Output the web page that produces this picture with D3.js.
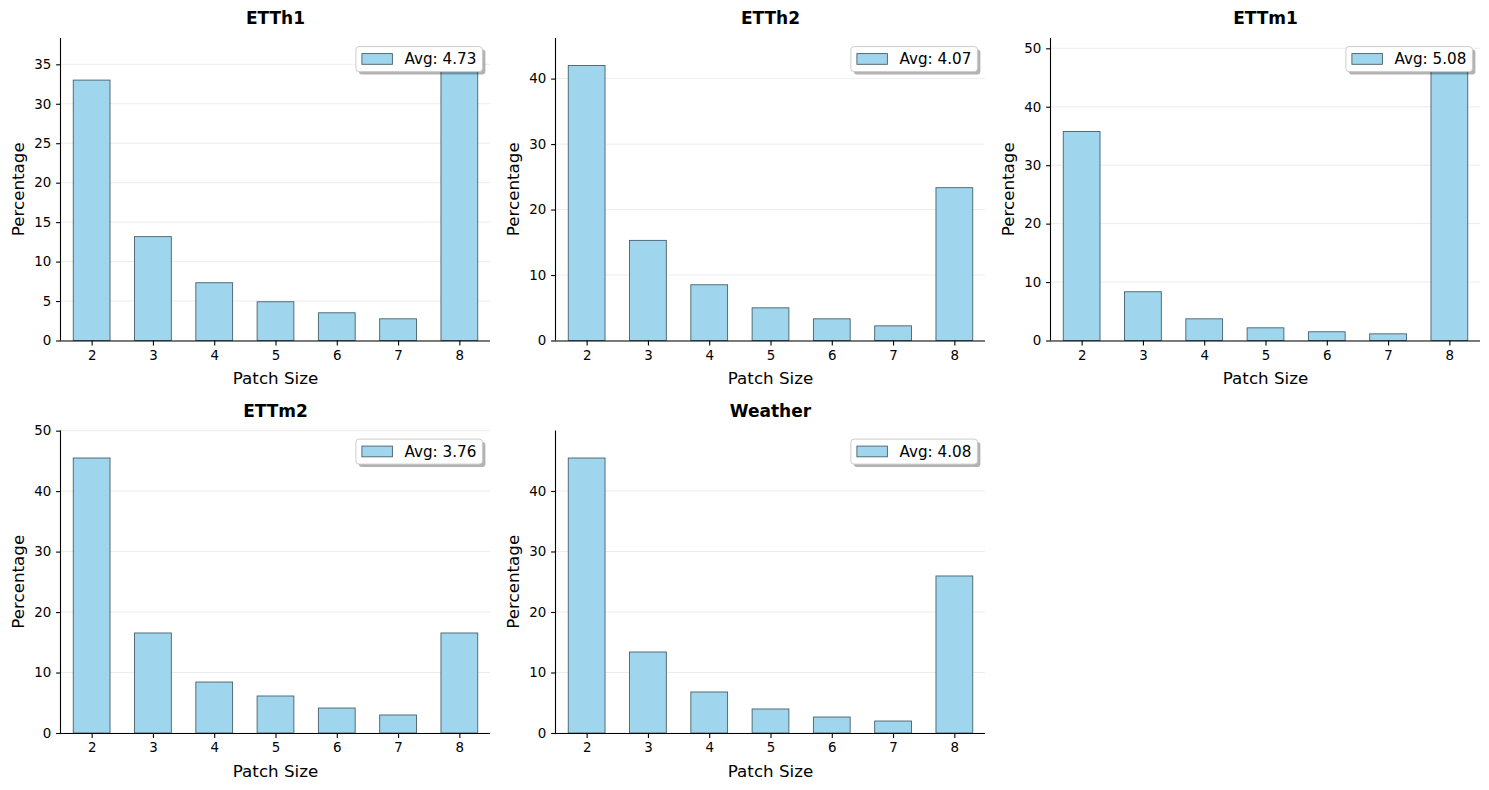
<!DOCTYPE html>
<html>
<head>
<meta charset="utf-8">
<script src="https://cdn.jsdelivr.net/npm/d3@7"></script>
<style>
  html, body { margin: 0; padding: 0; background: #fff; }
  svg { display: block; font-family: "DejaVu Sans", sans-serif; }
</style>
</head>
<body>
<svg id="chart" width="1489" height="790"></svg>
<script>
// ---- data ----
const patchSizes = [2, 3, 4, 5, 6, 7, 8];
const datasetNames = ["ETTh1", "ETTh2", "ETTm1", "ETTm2", "Weather"];
const ETTh1 = [33.0, 13.16, 7.32, 4.91, 3.51, 2.75, 34.85];
const ETTh2 = [42.0, 15.29, 8.51, 4.99, 3.31, 2.24, 23.34];
const ETTm1 = [35.77, 8.34, 3.71, 2.17, 1.49, 1.14, 47.06];
const ETTm2 = [45.48, 16.54, 8.43, 6.12, 4.13, 2.98, 16.54];
const Weather = [45.45, 13.39, 6.78, 3.97, 2.64, 1.98, 25.95];
const averages = [4.73, 4.07, 5.08, 3.76, 4.08];
const yTicksETTh1 = [0, 5, 10, 15, 20, 25, 30, 35];
const yTicksETTh2 = [0, 10, 20, 30, 40];
const yTicksETTm1 = [0, 10, 20, 30, 40, 50];
const yTicksETTm2 = [0, 10, 20, 30, 40, 50];
const yTicksWeather = [0, 10, 20, 30, 40];

const seriesList = [ETTh1, ETTh2, ETTm1, ETTm2, Weather];
const tickList = [yTicksETTh1, yTicksETTh2, yTicksETTm1, yTicksETTm2, yTicksWeather];

// ---- layout ----
const colLefts = [61, 556, 1051];
const rowTops = [38, 430.5];
const axW = 429, axH = 302.5;

const svg = d3.select("#chart");

datasetNames.forEach((name, i) => {
  const values = seriesList[i];
  const col = i % 3, row = Math.floor(i / 3);
  const g = svg.append("g").attr("transform", `translate(${colLefts[col]},${rowTops[row]})`);

  const x = d3.scaleLinear().domain([1.5, 8.5]).range([0, axW]);
  const y = d3.scaleLinear().domain([0, d3.max(values) * 1.1]).range([axH, 0]);
  const barW = x(0.6) - x(0);

  // grid
  g.append("g").selectAll("line").data(tickList[i]).join("line")
    .attr("x1", 0).attr("x2", axW)
    .attr("y1", d => y(d)).attr("y2", d => y(d))
    .attr("stroke", "#b0b0b0").attr("stroke-opacity", 0.3).attr("stroke-width", 0.8);

  // bars
  g.append("g").selectAll("rect").data(values).join("rect")
    .attr("x", (d, j) => x(patchSizes[j]) - barW / 2)
    .attr("y", d => y(d))
    .attr("width", barW)
    .attr("height", d => axH - y(d))
    .attr("fill", "#9fd6ee")
    .attr("stroke", "#46606b")
    .attr("stroke-width", 0.9);

  // axes
  const xAxis = g.append("g").attr("transform", `translate(0,${axH})`)
    .call(d3.axisBottom(x).tickValues(patchSizes).tickFormat(d3.format("d")).tickSize(4.9).tickPadding(4.9));
  const yAxis = g.append("g")
    .call(d3.axisLeft(y).tickValues(tickList[i]).tickFormat(d3.format("d")).tickSize(4.9).tickPadding(4.9));
  [xAxis, yAxis].forEach(a => {
    a.select(".domain").attr("stroke", "#000").attr("stroke-width", 1.1);
    a.selectAll(".tick line").attr("stroke", "#000").attr("stroke-width", 1.1);
    a.selectAll(".tick text").attr("fill", "#000").style("font-size", "13.4px")
      .style("font-family", "DejaVu Sans, sans-serif");
  });
  xAxis.select(".domain").attr("d", `M0,0.5H${axW}`);
  yAxis.select(".domain").attr("d", `M-0.5,0V${axH}`);

  // title
  g.append("text").attr("x", axW / 2).attr("y", -14)
    .attr("text-anchor", "middle").style("font-size", "17px").style("font-weight", "bold")
    .text(name);
  // axis labels
  g.append("text").attr("x", axW / 2).attr("y", axH + 43.5)
    .attr("text-anchor", "middle").style("font-size", "16.7px").text("Patch Size");
  g.append("text").attr("transform", `translate(${-37.5},${axH / 2}) rotate(-90)`)
    .attr("text-anchor", "middle").style("font-size", "16.7px").text("Percentage");

  // legend
  const lw = 126.5, lh = 25, lx = axW - 7.6 - lw, ly = 8.6;
  const lg = g.append("g").attr("transform", `translate(${lx},${ly})`);
  lg.append("rect").attr("x", 3).attr("y", 3).attr("width", lw).attr("height", lh)
    .attr("rx", 3).attr("fill", "#000").attr("fill-opacity", 0.3);
  lg.append("rect").attr("x", 0).attr("y", 0).attr("width", lw).attr("height", lh)
    .attr("rx", 3).attr("fill", "#fff").attr("stroke", "#cccccc").attr("stroke-width", 1);
  lg.append("rect").attr("x", 6).attr("y", 7).attr("width", 30.5).attr("height", 10.7)
    .attr("fill", "#9fd6ee").attr("stroke", "#46606b").attr("stroke-width", 0.9);
  lg.append("text").attr("x", 48.5).attr("y", 17.6)
    .style("font-size", "15.2px").text(`Avg: ${averages[i].toFixed(2)}`);
});
</script>
</body>
</html>
